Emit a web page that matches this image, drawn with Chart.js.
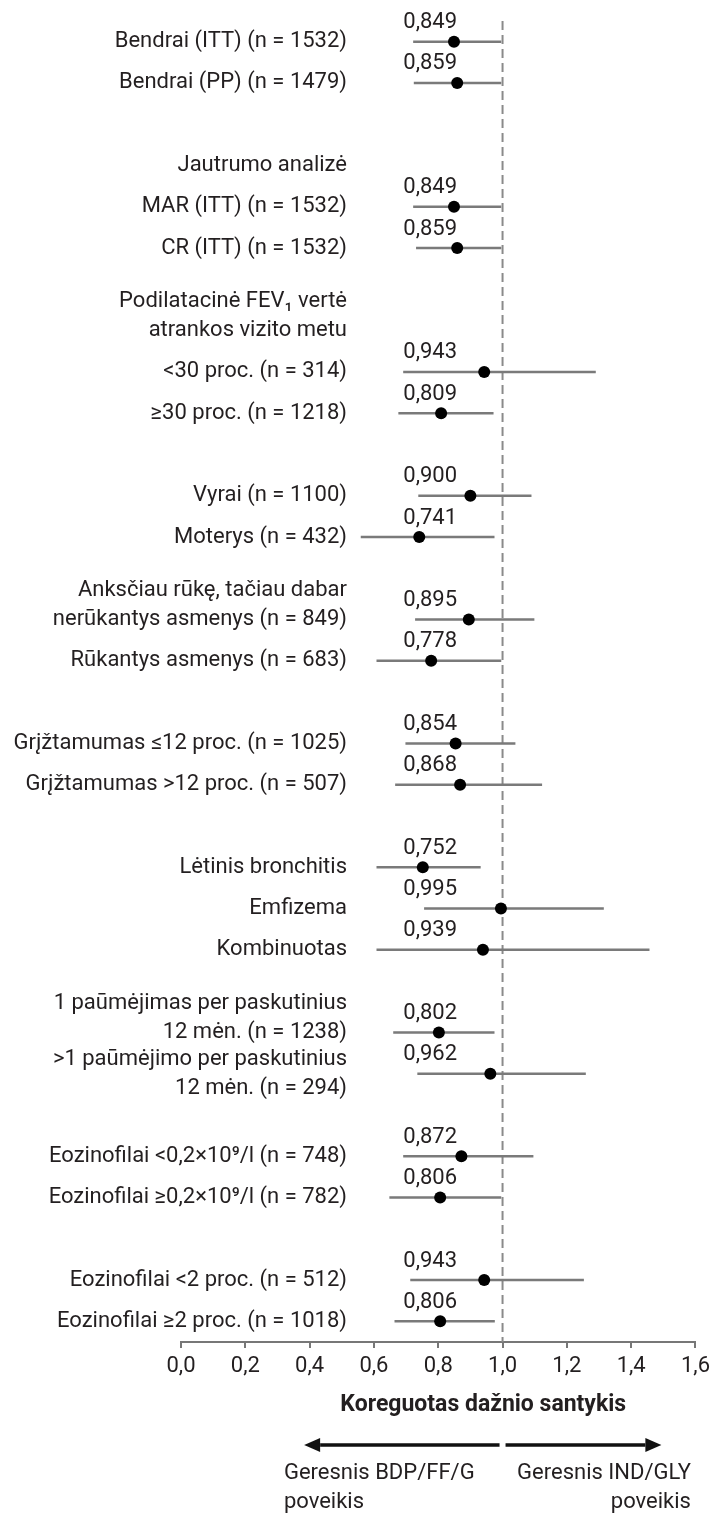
<!DOCTYPE html>
<html lang="lt">
<head>
<meta charset="utf-8">
<title>Koreguotas dažnio santykis</title>
<script src="https://cdn.jsdelivr.net/npm/chart.js@4.4.1/dist/chart.umd.min.js"></script>
<style>
  html, body { margin: 0; padding: 0; background: #fff; }
  #wrap { width: 715px; height: 1513px; }
</style>
</head>
<body>
<div id="wrap"><canvas id="forestChart" width="715" height="1513"></canvas></div>
<script>
// Eilutės iš viršaus į apačią; '' = tuščia tarpinė eilutė
const rowLabels = [
    'Bendrai (ITT) (n = 1532)',
    'Bendrai (PP) (n = 1479)',
    '',
    'Jautrumo analizė',
    'MAR (ITT) (n = 1532)',
    'CR (ITT) (n = 1532)',
    '',
    ['Podilatacinė FEV\u2081 vertė', 'atrankos vizito metu', ''],
    '<30 proc. (n = 314)',
    '≥30 proc. (n = 1218)',
    '',
    'Vyrai (n = 1100)',
    'Moterys (n = 432)',
    '',
    ['Anksčiau rūkę, tačiau dabar', 'nerūkantys asmenys (n = 849)', ''],
    'Rūkantys asmenys (n = 683)',
    '',
    'Grįžtamumas ≤12 proc. (n = 1025)',
    'Grįžtamumas >12 proc. (n = 507)',
    '',
    'Lėtinis bronchitis',
    'Emfizema',
    'Kombinuotas',
    '',
    ['1 paūmėjimas per paskutinius', '12 mėn. (n = 1238)', ''],
    ['>1 paūmėjimo per paskutinius', '12 mėn. (n = 294)'],
    '',
    'Eozinofilai <0,2×10\u2079/l (n = 748)',
    'Eozinofilai ≥0,2×10\u2079/l (n = 782)',
    '',
    'Eozinofilai <2 proc. (n = 512)',
    'Eozinofilai ≥2 proc. (n = 1018)'
];

// Koreguotas dažnio santykis ir 95 % PI (null = eilutė be įverčio)
const estimates = [0.849, 0.859, null, null, 0.849, 0.859, null, null, 0.943, 0.809, null,
    0.900, 0.741, null, 0.895, 0.778, null, 0.854, 0.868, null, 0.752, 0.995, 0.939, null,
    0.802, 0.962, null, 0.872, 0.806, null, 0.943, 0.806];
const ciLower = [0.722, 0.724, null, null, 0.722, 0.731, null, null, 0.691, 0.676, null,
    0.738, 0.559, null, 0.728, 0.608, null, 0.698, 0.666, null, 0.608, 0.756, 0.608, null,
    0.660, 0.735, null, 0.691, 0.648, null, 0.713, 0.664];
const ciUpper = [0.996, 0.996, null, null, 0.996, 0.996, null, null, 1.290, 0.972, null,
    1.090, 0.975, null, 1.099, 0.996, null, 1.040, 1.123, null, 0.932, 1.315, 1.457, null,
    0.975, 1.259, null, 1.096, 0.996, null, 1.253, 0.976];

const xTicks = [0, 0.2, 0.4, 0.6, 0.8, 1.0, 1.2, 1.4, 1.6];
const referenceValue = 1.0;
const axisTitle = 'Koreguotas dažnio santykis';
const favourLeft = ['Geresnis BDP/FF/G', 'poveikis'];
const favourRight = ['Geresnis IND/GLY', 'poveikis'];

const TEXT = '#231f20';
const FONT = 'Roboto';
const fmt = (v, d) => v.toFixed(d).replace('.', ',');

// duomenys grafikui
const pointData = [];
const whiskerData = [];
estimates.forEach((v, i) => {
    if (v === null) return;
    pointData.push({ x: v, y: i });
    whiskerData.push({ x: ciLower[i], y: i }, { x: ciUpper[i], y: i }, { x: null, y: null });
});
const refLine = [
    { x: referenceValue, y: -0.5 },
    { x: referenceValue, y: rowLabels.length - 0.5 }
];

function drawArrow(ctx, from, to, y) {
    const dir = Math.sign(to - from);
    const head = 16;
    ctx.beginPath();
    ctx.moveTo(from, y);
    ctx.lineTo(to - dir * head, y);
    ctx.stroke();
    ctx.beginPath();
    ctx.moveTo(to, y);
    ctx.lineTo(to - dir * head, y - 7);
    ctx.lineTo(to - dir * head, y + 7);
    ctx.closePath();
    ctx.fill();
}

// eilučių pavadinimai, reikšmės virš taškų, ašies pavadinimas ir rodyklės
const annotations = {
    id: 'annotations',
    afterDraw(chart) {
        const { ctx, chartArea } = chart;
        const x = chart.scales.x;
        const y = chart.scales.y;
        ctx.save();
        ctx.fillStyle = TEXT;
        ctx.textBaseline = 'middle';
        ctx.font = `22px ${FONT}`;

        // pavadinimai kairėje, lygiuoti dešinėn
        ctx.textAlign = 'right';
        const labelRight = chartArea.left + 166;
        rowLabels.forEach((label, i) => {
            const lines = [].concat(label);
            const cy = y.getPixelForValue(i);
            lines.forEach((line, k) => {
                ctx.fillText(line, labelRight, cy + (k - (lines.length - 1) / 2) * 29);
            });
        });

        ctx.textAlign = 'center';
        estimates.forEach((v, i) => {
            if (v === null) return;
            ctx.fillText(fmt(v, 3), x.getPixelForValue(0.775), y.getPixelForValue(i) - 19);
        });

        ctx.font = `bold 23px ${FONT}`;
        ctx.fillText(axisTitle, x.getPixelForValue(0.94), chartArea.bottom + 63);

        const mid = x.getPixelForValue(referenceValue);
        const ay = chartArea.bottom + 103;
        ctx.strokeStyle = '#111';
        ctx.fillStyle = '#111';
        ctx.lineWidth = 3.5;
        drawArrow(ctx, mid - 3, x.getPixelForValue(0.383), ay);
        drawArrow(ctx, mid + 3, x.getPixelForValue(1.494), ay);

        ctx.fillStyle = TEXT;
        ctx.font = `22px ${FONT}`;
        ctx.textAlign = 'left';
        ctx.fillText(favourLeft[0], x.getPixelForValue(0.32), chartArea.bottom + 131);
        ctx.fillText(favourLeft[1], x.getPixelForValue(0.32), chartArea.bottom + 160);
        ctx.textAlign = 'right';
        ctx.fillText(favourRight[0], x.getPixelForValue(1.586), chartArea.bottom + 131);
        ctx.fillText(favourRight[1], x.getPixelForValue(1.586), chartArea.bottom + 160);
        ctx.restore();
    }
};

const ctx = document.getElementById('forestChart').getContext('2d');
new Chart(ctx, {
    type: 'scatter',
    data: {
        datasets: [
            {
                label: 'Įvertis',
                data: pointData,
                pointRadius: 6,
                pointHoverRadius: 6,
                backgroundColor: '#000',
                borderWidth: 0,
                order: 0
            },
            {
                type: 'line',
                label: '95 % PI',
                data: whiskerData,
                borderColor: '#7a7a7a',
                borderWidth: 2.5,
                pointRadius: 0,
                spanGaps: false,
                fill: false,
                order: 1
            },
            {
                type: 'line',
                label: 'Nėra skirtumo',
                data: refLine,
                borderColor: '#8a8a8a',
                borderWidth: 2,
                borderDash: [9, 5],
                pointRadius: 0,
                fill: false,
                order: 2
            }
        ]
    },
    options: {
        responsive: false,
        animation: false,
        layout: { padding: { top: 21, right: 17, bottom: 134, left: 0 } },
        plugins: {
            legend: { display: false },
            tooltip: { enabled: false }
        },
        scales: {
            x: {
                type: 'linear',
                min: 0,
                max: 1.6,
                afterBuildTicks: s => { s.ticks = xTicks.map(v => ({ value: v })); },
                ticks: {
                    callback: v => fmt(v, 1),
                    font: { family: FONT, size: 22 },
                    color: TEXT,
                    padding: 5,
                    maxRotation: 0
                },
                grid: { drawOnChartArea: false, drawTicks: true, tickLength: 6, color: '#777', lineWidth: 2 },
                border: { display: true, color: '#777', width: 2 },
                afterFit: s => { s.height = 37; }
            },
            y: {
                type: 'linear',
                reverse: true,
                min: -0.5,
                max: rowLabels.length - 0.5,
                ticks: { display: false },
                grid: { display: false, drawTicks: false },
                border: { display: false },
                afterFit: s => { s.width = 181; }
            }
        }
    },
    plugins: [annotations]
});
</script>
</body>
</html>
